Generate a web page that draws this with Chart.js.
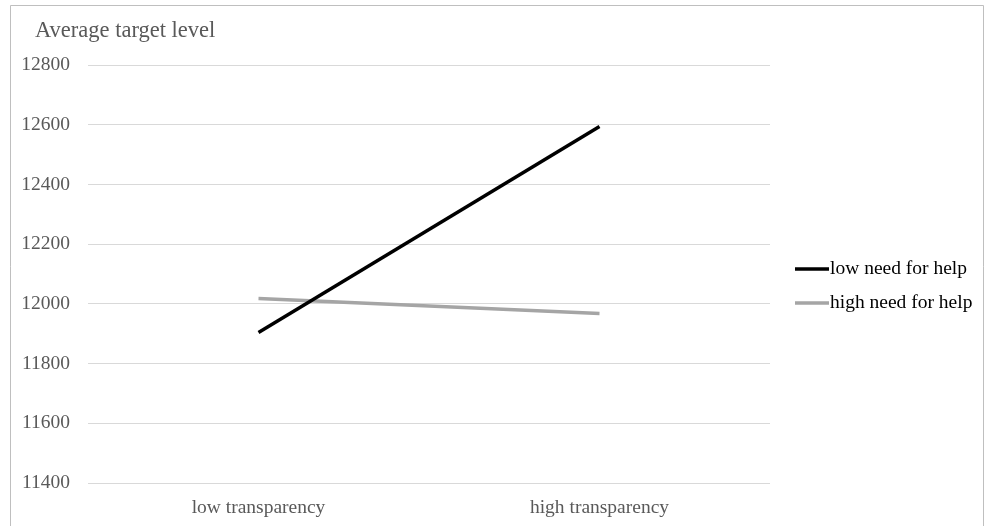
<!DOCTYPE html>
<html>
<head>
<meta charset="utf-8">
<script src="https://cdn.jsdelivr.net/npm/chart.js@4.4.1/dist/chart.umd.min.js"></script>
<style>
  html, body { margin: 0; padding: 0; background: #fff; }
  #wrap { width: 984px; height: 526px; position: relative; }
</style>
</head>
<body>
<div id="wrap"><canvas id="chart"></canvas></div>
<script>
  // chart data
  const categories = ["low transparency", "high transparency"];
  const lowNeed = [11904, 12594];
  const highNeed = [12018, 11968];
  const seriesNames = ["low need for help", "high need for help"];
  const yTicks = { min: 11400, max: 12800, step: 200 };
  const title = "Average target level";

  const font = "'Liberation Serif', 'Times New Roman', serif";

  // frame, title and legend drawn on the canvas
  const extras = {
    id: "extras",
    beforeDraw(chart) {
      const ctx = chart.ctx;
      ctx.save();
      ctx.strokeStyle = "#bfbfbf";
      ctx.lineWidth = 1;
      ctx.beginPath();
      ctx.moveTo(10.5, 530);
      ctx.lineTo(10.5, 5.5);
      ctx.lineTo(983.5, 5.5);
      ctx.lineTo(983.5, 530);
      ctx.stroke();
      ctx.fillStyle = "#595959";
      ctx.font = "22.5px " + font;
      ctx.textBaseline = "middle";
      ctx.fillText(title, 35, 31);
      ctx.restore();
    },
    afterDraw(chart) {
      const ctx = chart.ctx;
      ctx.save();
      ctx.font = "19.5px " + font;
      ctx.textBaseline = "middle";
      chart.data.datasets.forEach((ds, i) => {
        const y = 269 + i * 34;
        ctx.strokeStyle = ds.borderColor;
        ctx.lineWidth = 3.5;
        ctx.beginPath();
        ctx.moveTo(795, y);
        ctx.lineTo(829, y);
        ctx.stroke();
        ctx.fillStyle = "#000";
        ctx.fillText(ds.label, 830, y);
      });
      ctx.restore();
    }
  };

  new Chart(document.getElementById("chart"), {
    type: "line",
    data: {
      labels: categories,
      datasets: [
        { label: seriesNames[0], data: lowNeed, borderColor: "#000000", backgroundColor: "#000000", borderWidth: 3.5, pointRadius: 0, tension: 0 },
        { label: seriesNames[1], data: highNeed, borderColor: "#a5a5a5", backgroundColor: "#a5a5a5", borderWidth: 3.5, pointRadius: 0, tension: 0 }
      ]
    },
    options: {
      responsive: true,
      maintainAspectRatio: false,
      animation: false,
      layout: { padding: { left: 0, top: 65, right: 214, bottom: 0 } },
      plugins: {
        legend: { display: false },
        title: { display: false },
        tooltip: { enabled: false }
      },
      scales: {
        x: {
          offset: true,
          grid: { display: false, drawTicks: false },
          border: { display: false },
          ticks: { color: "#595959", font: { family: font, size: 19.5 }, padding: 13 },
          afterFit(scale) { scale.height = 43; }
        },
        y: {
          min: yTicks.min,
          max: yTicks.max,
          grid: { color: "#d9d9d9", lineWidth: 1, drawTicks: false },
          border: { display: false },
          ticks: {
            stepSize: yTicks.step,
            color: "#595959",
            font: { family: font, size: 19.5 },
            padding: 18,
            callback: (v) => String(v)
          },
          afterFit(scale) { scale.width = 88; }
        }
      }
    },
    plugins: [extras]
  });
</script>
</body>
</html>
